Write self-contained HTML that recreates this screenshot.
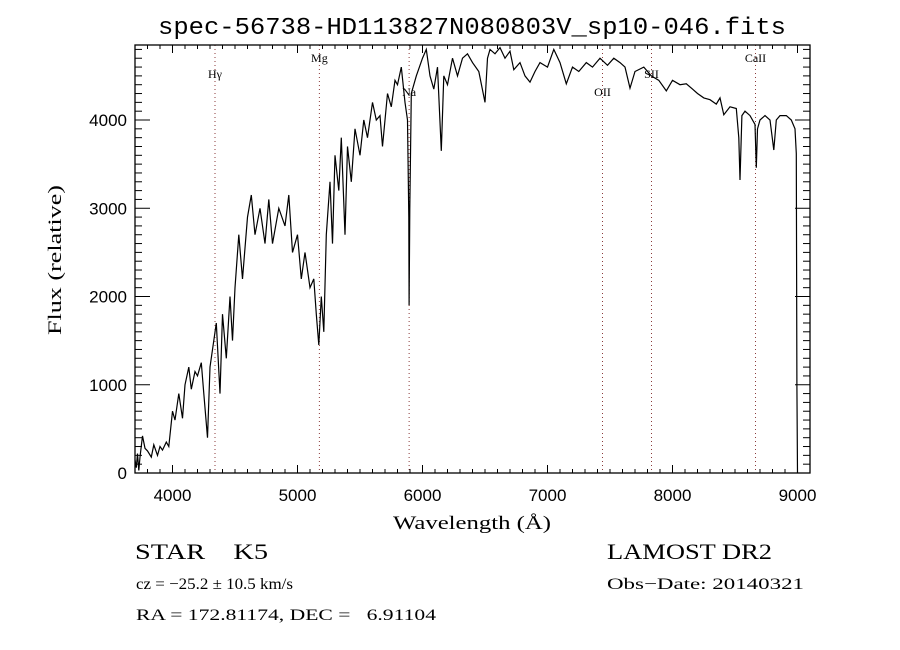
<!DOCTYPE html>
<html><head><meta charset="utf-8"><style>
body{margin:0;background:#fff;}
svg{display:block;}
.tk{font-family:"Liberation Sans",sans-serif;font-size:17px;fill:#000;}
.sf{font-family:"Liberation Serif",serif;fill:#000;}
</style></head><body>
<svg id="chart" width="900" height="650" viewBox="0 0 900 650" xmlns="http://www.w3.org/2000/svg">
<rect width="900" height="650" fill="#fff"/>
<text x="472" y="34" text-anchor="middle" font-family="Liberation Mono, monospace" font-size="24" fill="#000" textLength="628" lengthAdjust="spacingAndGlyphs">spec-56738-HD113827N080803V_sp10-046.fits</text>
<g id="lines"></g>
<g id="axes"></g>
<path id="spec" fill="none" stroke="#000" stroke-width="1.2"/>
<text class="sf" x="393" y="529" font-size="19" textLength="158" lengthAdjust="spacingAndGlyphs">Wavelength (Å)</text>
<text class="sf" x="0" y="0" font-size="19" textLength="150" lengthAdjust="spacingAndGlyphs" transform="translate(61,335) rotate(-90)">Flux (relative)</text>
<text class="sf" x="135" y="559" font-size="22" xml:space="preserve" textLength="133" lengthAdjust="spacingAndGlyphs">STAR    K5</text>
<text class="sf" x="607" y="559" font-size="22" textLength="165" lengthAdjust="spacingAndGlyphs">LAMOST DR2</text>
<text class="sf" x="136" y="589" font-size="16" textLength="157" lengthAdjust="spacingAndGlyphs">cz = −25.2 ± 10.5 km/s</text>
<text class="sf" x="607" y="589" font-size="16" textLength="197" lengthAdjust="spacingAndGlyphs">Obs−Date: 20140321</text>
<text class="sf" x="136" y="620" font-size="16" xml:space="preserve" textLength="300" lengthAdjust="spacingAndGlyphs">RA = 172.81174, DEC =   6.91104</text>
</svg>
<script>
const wavelengths=[3700,3710,3720,3730,3740,3760,3780,3800,3830,3850,3880,3900,3920,3950,3970,4000,4020,4050,4080,4100,4130,4150,4180,4200,4230,4250,4280,4300,4330,4350,4380,4400,4430,4460,4480,4500,4530,4560,4600,4630,4660,4700,4740,4770,4800,4850,4900,4930,4960,5000,5030,5060,5100,5130,5150,5170,5190,5210,5230,5260,5280,5300,5330,5350,5380,5400,5430,5460,5500,5530,5560,5600,5630,5660,5680,5720,5750,5780,5800,5830,5860,5880,5890,5893,5898,5910,5950,6000,6030,6060,6090,6120,6150,6170,6200,6240,6280,6320,6360,6400,6450,6500,6520,6540,6580,6620,6660,6700,6730,6780,6820,6860,6900,6940,7000,7050,7100,7150,7200,7250,7310,7360,7420,7480,7530,7580,7620,7660,7700,7770,7830,7890,7950,8000,8060,8110,8160,8200,8250,8300,8350,8380,8410,8460,8510,8530,8540,8555,8580,8620,8660,8670,8680,8700,8740,8780,8810,8830,8860,8910,8950,8980,8990,8995,9000];
const fluxValues=[150,60,220,30,180,420,280,250,180,320,200,300,260,350,300,700,600,900,620,1000,1200,950,1150,1100,1250,900,400,1200,1500,1700,900,1800,1300,2000,1500,2100,2700,2200,2900,3150,2700,3000,2600,3100,2600,3000,2800,3150,2500,2700,2200,2500,2100,2200,1800,1450,2000,1600,2700,3300,2600,3600,3200,3800,2700,3700,3300,3900,3600,4000,3800,4200,4000,4050,3700,4300,4150,4450,4400,4600,4200,4000,2900,1900,3000,4300,4500,4700,4800,4500,4350,4600,3650,4500,4400,4700,4500,4700,4750,4650,4550,4200,4700,4800,4750,4820,4700,4780,4570,4650,4500,4430,4550,4650,4600,4800,4650,4410,4600,4550,4650,4600,4700,4620,4700,4650,4600,4360,4550,4600,4500,4450,4330,4450,4400,4410,4350,4300,4250,4230,4180,4250,4060,4150,4130,3800,3320,4050,4100,4050,3950,3460,3900,4000,4050,4000,3660,4000,4050,4050,4000,3900,3620,1000,0];
const xTicks=[4000,5000,6000,7000,8000,9000];
const yTicks=[0,1000,2000,3000,4000];
const lineNames=["Hγ","Mg","Na","OII","SII","CaII"];
const lineWaves=[4340,5175,5893,7440,7832,8664];
const lineLabelY=[78,62,96,96,78,62];

const L=135,R=810,T=45,B=473,XMIN=3700,XMAX=9100,YMIN=0,YMAX=4850;
const sx=w=>L+(w-XMIN)/(XMAX-XMIN)*(R-L);
const sy=f=>B-(f-YMIN)/(YMAX-YMIN)*(B-T);
const NS="http://www.w3.org/2000/svg";
function mk(tag,attrs,parent){const e=document.createElementNS(NS,tag);for(const k in attrs)e.setAttribute(k,attrs[k]);parent.appendChild(e);return e;}
const axes=document.getElementById('axes');
const frame=mk('rect',{x:L,y:T,width:R-L,height:B-T,fill:'none',stroke:'#000','stroke-width':1.3},axes);


for(let w=3700;w<=9100;w+=100){
  const major=w%1000===0,len=major?8:4,x=sx(w);
  const t1=mk('line',{x1:x,x2:x,y1:B,y2:B-len,stroke:'#000'},axes);
  
  
  const t2=mk('line',{x1:x,x2:x,y1:T,y2:T+len,stroke:'#000'},axes);
  
  
}
xTicks.forEach(v=>{const t=mk('text',{x:sx(v),y:B+28,'text-anchor':'middle',class:'tk'},axes);t.textContent=v;
  
  });
for(let f=0;f<=4800;f+=100){
  const major=f%1000===0,len=major?15:7,y=sy(f);
  const t1=mk('line',{x1:L,x2:L+len,y1:y,y2:y,stroke:'#000'},axes);
  
  
  const t2=mk('line',{x1:R,x2:R-len,y1:y,y2:y,stroke:'#000'},axes);
  
  
}
yTicks.forEach(v=>{const t=mk('text',{x:127,y:sy(v)+6,'text-anchor':'end',class:'tk'},axes);t.textContent=v;
  
  });
const lines=document.getElementById('lines');
lineWaves.forEach((w,i)=>{
  const l=mk('line',{x1:sx(w),x2:sx(w),y1:T,y2:B,stroke:'#8b3a3a','stroke-width':1,'stroke-dasharray':'1,3'},lines);
  
  
  const t=mk('text',{x:sx(w),y:lineLabelY[i],'text-anchor':'middle',class:'sf','font-size':'12'},lines);
  t.textContent=lineNames[i];
  
  
});
let d='';
wavelengths.forEach((w,i)=>{d+=(i?'L':'M')+sx(w).toFixed(1)+','+sy(fluxValues[i]).toFixed(1);});
document.getElementById('spec').setAttribute('d',d);
</script>
</body></html>
